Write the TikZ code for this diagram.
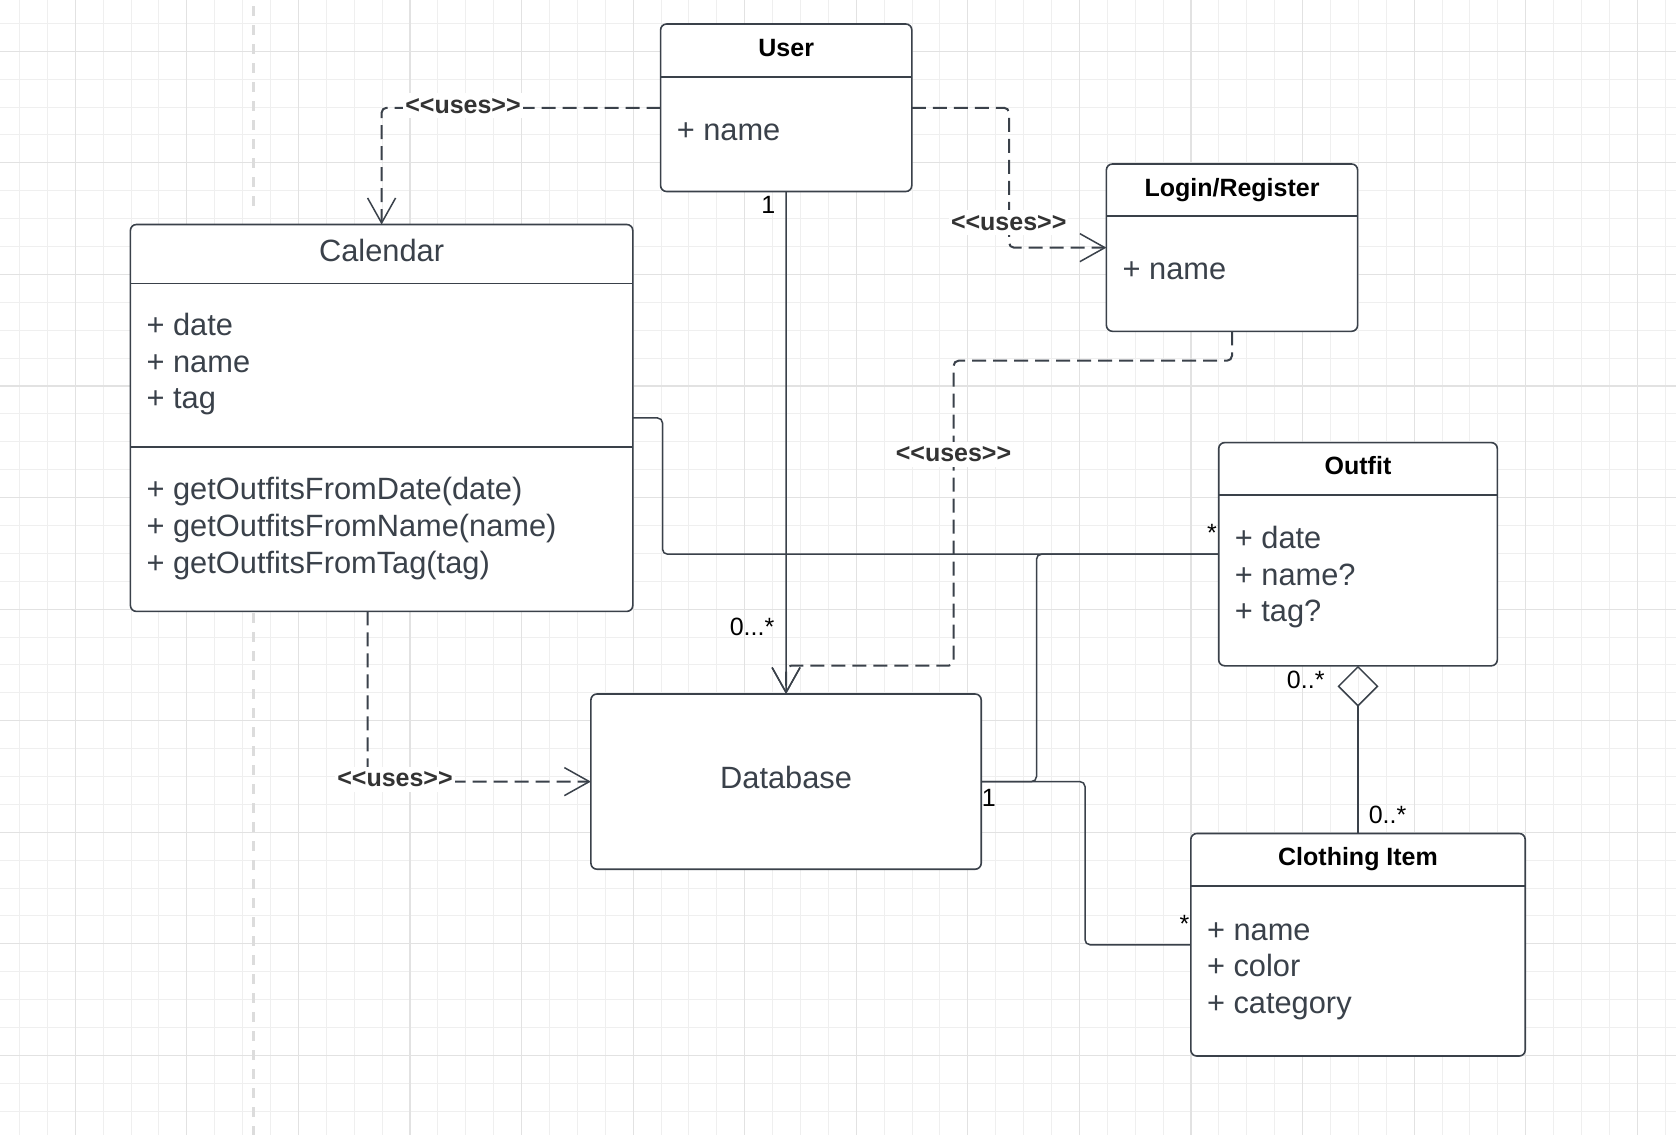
\documentclass[tikz,border=0pt]{standalone}
\usepackage{fontspec}
\setmainfont{Liberation Sans}
\usetikzlibrary{arrows.meta}
\definecolor{ink}{HTML}{3A414A}
\definecolor{txt}{HTML}{3A414A}
\definecolor{stereoink}{HTML}{333333}
\definecolor{gridmajor}{HTML}{E2E2E2}
\definecolor{gridminor}{HTML}{EFEFEF}
\definecolor{guide}{HTML}{DCDCDC}

\begin{document}
\begin{tikzpicture}[x=1pt,y=-1pt,
  classbox/.style={draw=ink, fill=white, line width=1.6pt, rounded corners=6pt,
    inner sep=0pt, outer sep=0pt, anchor=north west},
  divider/.style={draw=ink, line width=1.6pt},
  titletext/.style={font=\bfseries\fontsize{25}{30}\selectfont, text=black, anchor=base, inner sep=0pt},
  nametext/.style={font=\fontsize{30.8}{37}\selectfont, text=txt, anchor=base, inner sep=0pt},
  member/.style={font=\fontsize{30.8}{37}\selectfont, text=txt, anchor=base west, inner sep=0pt},
  mult/.style={font=\fontsize{25}{30}\selectfont, text=black, anchor=base, inner sep=0pt},
  stereo/.style={font=\bfseries\fontsize{25}{30}\selectfont, text=stereoink, anchor=base,
    fill=white, inner xsep=2pt, inner ysep=5pt},
  link/.style={draw=ink, line width=1.5pt, rounded corners=5pt},
  opentip/.style={-{Straight Barb[length=25pt,width=28pt,line width=1.5pt]}},
  dep/.style={link, line width=2pt, opentip, dash pattern=on 14pt off 7pt},
  nav/.style={link, opentip},
]

\useasboundingbox (0,0) rectangle (1676,1135);
\fill[white] (0,0) rectangle (1676,1135);

% background grid
\foreach \i in {-2,...,57} \draw[gridminor, line width=1pt] ({75.3+27.893*\i},0) -- ++(0,1135);
\foreach \i in {-1,...,38} \draw[gridminor, line width=1pt] (0,{51.3+27.893*\i}) -- ++(1676,0);
\foreach \i in {0,...,14} \draw[gridmajor, line width=1.2pt] ({75.3+111.57*\i},0) -- ++(0,1135);
\foreach \i in {0,...,9} \draw[gridmajor, line width=1.2pt] (0,{51.3+111.57*\i}) -- ++(1676,0);

% page guide
\draw[guide, line width=3pt, dash pattern=on 10pt off 9pt] (253.2,6) -- (253.2,215);
\draw[guide, line width=3pt, dash pattern=on 10pt off 9pt] (253.2,613) -- (253.2,1135);

% ---- classes ----
% User
\node[classbox, minimum width=251.2pt, minimum height=167.5pt] (user) at (660.6,24) {};
\draw[divider] (user.west |- 0,76.8) -- (user.east |- 0,76.8);
\node[titletext] (user-t) at (786.2,56) {User};
\node[member] (user-a1) at (676.6,140.7) {+ name};

% Login/Register
\node[classbox, minimum width=251.2pt, minimum height=167.3pt] (login) at (1106.4,164) {};
\draw[divider] (login.west |- 0,216) -- (login.east |- 0,216);
\node[titletext] (login-t) at (1232,196.2) {Login/Register};
\node[member] (login-a1) at (1122.4,279.3) {+ name};

% Calendar
\node[classbox, minimum width=502.4pt, minimum height=386.9pt] (cal) at (130.4,224.5) {};
\draw[divider] (cal.west |- 0,283.3) -- (cal.east |- 0,283.3);
\draw[divider] (cal.west |- 0,446.8) -- (cal.east |- 0,446.8);
\node[nametext] (cal-t) at (381.6,261) {Calendar};
\node[member] (cal-a1) at (146.4,335.5) {+ date};
\node[member] (cal-a2) at (146.4,372.2) {+ name};
\node[member] (cal-a3) at (146.4,408.9) {+ tag};
\node[member] (cal-m1) at (146.4,499.8) {+ getOutfitsFromDate(date)};
\node[member] (cal-m2) at (146.4,536.5) {+ getOutfitsFromName(name)};
\node[member] (cal-m3) at (146.4,573.2) {+ getOutfitsFromTag(tag)};

% Outfit
\node[classbox, minimum width=278.6pt, minimum height=223.2pt] (outfit) at (1218.7,442.6) {};
\draw[divider] (outfit.west |- 0,495.1) -- (outfit.east |- 0,495.1);
\node[titletext] (outfit-t) at (1358,474.5) {Outfit};
\node[member] (outfit-a1) at (1234.7,548.3) {+ date};
\node[member] (outfit-a2) at (1234.7,585) {+ name?};
\node[member] (outfit-a3) at (1234.7,621.7) {+ tag?};

% Database
\node[classbox, minimum width=390.3pt, minimum height=175.2pt] (db) at (590.9,694) {};
\node[nametext] (db-t) at (786.1,788.3) {Database};

% Clothing Item
\node[classbox, minimum width=334.4pt, minimum height=222.5pt] (cloth) at (1190.8,833.5) {};
\draw[divider] (cloth.west |- 0,886) -- (cloth.east |- 0,886);
\node[titletext] (cloth-t) at (1358,865.7) {Clothing Item};
\node[member] (cloth-a1) at (1206.8,940) {+ name};
\node[member] (cloth-a2) at (1206.8,976.7) {+ color};
\node[member] (cloth-a3) at (1206.8,1013.4) {+ category};

% ---- relations ----
\coordinate (bendA) at (1009,0);
\coordinate (bendB) at (0,360.7);
\coordinate (bendC) at (953.6,665.7);
\coordinate (bendD) at (367.5,0);
\coordinate (bendE) at (662.5,0);
\coordinate (bendF) at (1036.5,0);
\coordinate (bendG) at (1085,0);

\draw[dep] (user.west) -| (cal.north);
\draw[dep] (user.east) -- (user.east -| bendA) |- (login.west);
\draw[dep] (login.south) |- (bendC |- bendB) -- (bendC) -| (db.north);
\draw[nav] (user.south) -- (db.north);
\draw[dep] (cal.south -| bendD) |- (db.west);
\draw[link] (cal.east) -- (cal.east -| bendE) |- (outfit.west);
\draw[link] (db.east) -- (db.east -| bendF) |- (outfit.west);
\draw[link] (db.east) -- (db.east -| bendG) |- (cloth.west);
\draw[link, {Diamond[open,length=41pt,width=41pt,line width=1.5pt]}-] (outfit.south) -- (cloth.north);

% stereotypes
\node[stereo] (s1) at (463,113) {<{}<uses>{}>};
\node[stereo] (s2) at (1008.7,230) {<{}<uses>{}>};
\node[stereo] (s3) at (953.5,461.7) {<{}<uses>{}>};
\node[stereo] (s4) at (395,786.7) {<{}<uses>{}>};

% multiplicities
\node[mult] (m1) at (768.4,213.3) {1};
\node[mult] (m2) at (752,635) {0...*};
\node[mult] (m3) at (1212,541) {*};
\node[mult] (m4) at (988.8,806.7) {1};
\node[mult] (m5) at (1184.5,932) {*};
\node[mult] (m6) at (1305.7,688) {0..*};
\node[mult] (m7) at (1387.5,823) {0..*};

\end{tikzpicture}
\end{document}
